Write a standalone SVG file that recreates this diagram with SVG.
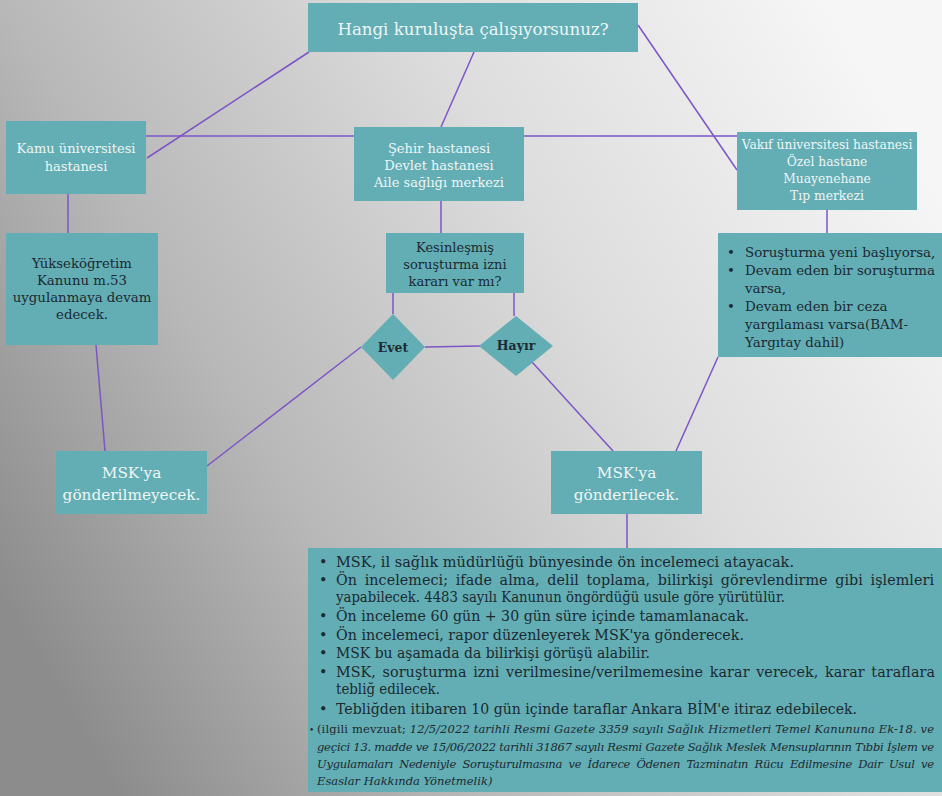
<svg xmlns="http://www.w3.org/2000/svg" width="942" height="796" viewBox="0 0 942 796">
<defs>
<linearGradient id="bg" x1="0" y1="0.75" x2="1" y2="0.25">
<stop offset="0" stop-color="#8c8c8c"/>
<stop offset="0.3" stop-color="#b8b8b8"/>
<stop offset="0.65" stop-color="#dddddd"/>
<stop offset="1" stop-color="#f6f6f6"/>
</linearGradient>
<style>
.box{fill:#63adb4}
.lt{fill:#eef6f6;font-family:"DejaVu Serif","Liberation Serif",serif;text-anchor:middle}
.dk{fill:#1b2a31;font-family:"DejaVu Serif","Liberation Serif",serif;text-anchor:middle}
.dl{fill:#1b2a31;font-family:"DejaVu Serif","Liberation Serif",serif}
.it{font-style:italic}
.ln{stroke:#7d55c7;stroke-width:1.5;fill:none}
</style>
</defs>
<rect width="942" height="796" fill="url(#bg)"/>
<g id="connectors">
<line class="ln" x1="309" y1="52" x2="147" y2="158"/>
<line class="ln" x1="474" y1="52" x2="441" y2="127"/>
<line class="ln" x1="638" y1="25" x2="737" y2="170"/>
<line class="ln" x1="146" y1="136" x2="737" y2="136"/>
<line class="ln" x1="68" y1="194" x2="68" y2="233"/>
<line class="ln" x1="441" y1="201" x2="441" y2="233"/>
<line class="ln" x1="827" y1="210" x2="827" y2="233"/>
<line class="ln" x1="393" y1="293" x2="393" y2="314"/>
<line class="ln" x1="514" y1="293" x2="514" y2="316"/>
<line class="ln" x1="425" y1="347" x2="480" y2="346"/>
<line class="ln" x1="361" y1="347" x2="207" y2="466"/>
<line class="ln" x1="532" y1="362" x2="613" y2="451"/>
<line class="ln" x1="718" y1="357" x2="676" y2="451"/>
<line class="ln" x1="96" y1="345" x2="105" y2="451"/>
<line class="ln" x1="627" y1="514" x2="627" y2="548"/>
</g>
<g id="title">
<rect class="box" x="308" y="3" width="330" height="49"/>
<text class="lt" x="473" y="35" font-size="16.6">Hangi kuruluşta çalışıyorsunuz?</text>
</g>
<g id="kamu">
<rect class="box" x="6" y="121" width="140" height="73"/>
<text class="lt" x="76" y="153" font-size="13">Kamu üniversitesi</text>
<text class="lt" x="76" y="171" font-size="13">hastanesi</text>
</g>
<g id="yok">
<rect class="box" x="6" y="233" width="152" height="112"/>
<text class="dk" x="82" y="268" font-size="13.3">Yükseköğretim</text>
<text class="dk" x="82" y="285" font-size="13.3">Kanunu m.53</text>
<text class="dk" x="82" y="302" font-size="13.3">uygulanmaya devam</text>
<text class="dk" x="82" y="319" font-size="13.3">edecek.</text>
</g>
<g id="sehir">
<rect class="box" x="354" y="127" width="170" height="74"/>
<text class="lt" x="439" y="153" font-size="13">Şehir hastanesi</text>
<text class="lt" x="439" y="170" font-size="13">Devlet hastanesi</text>
<text class="lt" x="439" y="187" font-size="13">Aile sağlığı merkezi</text>
</g>
<g id="kesin">
<rect class="box" x="386" y="233" width="138" height="60"/>
<text class="dk" x="455" y="252" font-size="13">Kesinleşmiş</text>
<text class="dk" x="455" y="269" font-size="13">soruşturma izni</text>
<text class="dk" x="455" y="286" font-size="13">kararı var mı?</text>
</g>
<g id="evet">
<polygon class="box" points="361,347 393,314 425,347 393,380"/>
<text class="dk" x="393" y="352" font-size="12.5" font-weight="bold">Evet</text>
</g>
<g id="hayir">
<polygon class="box" points="479,346 516,316 553,346 516,376"/>
<text class="dk" x="516" y="350" font-size="12.5" font-weight="bold">Hayır</text>
</g>
<g id="vakif">
<rect class="box" x="737" y="132" width="180" height="78"/>
<text class="lt" x="827" y="149" font-size="12.3">Vakıf üniversitesi hastanesi</text>
<text class="lt" x="827" y="166" font-size="12.3">Özel hastane</text>
<text class="lt" x="827" y="183" font-size="12.3">Muayenehane</text>
<text class="lt" x="827" y="200" font-size="12.3">Tıp merkezi</text>
</g>
<g id="sorusturma">
<rect class="box" x="718" y="233" width="224" height="124"/>
<g class="dl" font-size="13.4">
<text x="727" y="257">•</text><text x="745" y="257">Soruşturma yeni başlıyorsa,</text>
<text x="727" y="275">•</text><text x="745" y="275">Devam eden bir soruşturma</text>
<text x="745" y="293">varsa,</text>
<text x="727" y="311">•</text><text x="745" y="311">Devam eden bir ceza</text>
<text x="745" y="329">yargılaması varsa(BAM-</text>
<text x="745" y="347">Yargıtay dahil)</text>
</g>
</g>
<g id="msk-no">
<rect class="box" x="56" y="451" width="151" height="63"/>
<text class="lt" x="131.5" y="478" font-size="15.3">MSK'ya</text>
<text class="lt" x="131.5" y="500" font-size="15.3">gönderilmeyecek.</text>
</g>
<g id="msk-yes">
<rect class="box" x="551" y="451" width="151" height="63"/>
<text class="lt" x="626.5" y="478" font-size="15.3">MSK'ya</text>
<text class="lt" x="626.5" y="500" font-size="15.3">gönderilecek.</text>
</g>
<g id="surec">
<rect class="box" x="308" y="548" width="634" height="244"/>
<g class="dl" font-size="14.3">
<text x="319" y="567">•</text><text x="336" y="567" textLength="458" lengthAdjust="spacingAndGlyphs">MSK, il sağlık müdürlüğü bünyesinde ön incelemeci atayacak.</text>
<text x="319" y="585">•</text><text x="336" y="585" textLength="598" lengthAdjust="spacing" word-spacing="3">Ön incelemeci; ifade alma, delil toplama, bilirkişi görevlendirme gibi işlemleri</text>
<text x="336" y="602" textLength="449" lengthAdjust="spacingAndGlyphs">yapabilecek. 4483 sayılı Kanunun  öngördüğü usule göre yürütülür.</text>
<text x="319" y="621">•</text><text x="336" y="621" textLength="413" lengthAdjust="spacingAndGlyphs">Ön inceleme 60 gün + 30 gün süre içinde tamamlanacak.</text>
<text x="319" y="640">•</text><text x="336" y="640" textLength="408" lengthAdjust="spacingAndGlyphs">Ön incelemeci, rapor düzenleyerek MSK'ya gönderecek.</text>
<text x="319" y="658">•</text><text x="336" y="658" textLength="314" lengthAdjust="spacingAndGlyphs">MSK bu aşamada da bilirkişi görüşü alabilir.</text>
<text x="319" y="677">•</text><text x="336" y="677" textLength="599" lengthAdjust="spacing" word-spacing="2">MSK, soruşturma izni verilmesine/verilmemesine karar verecek, karar taraflara</text>
<text x="336" y="694" textLength="104" lengthAdjust="spacingAndGlyphs">tebliğ edilecek.</text>
<text x="319" y="714">•</text><text x="336" y="714" textLength="521" lengthAdjust="spacingAndGlyphs">Tebliğden itibaren 10 gün içinde taraflar Ankara BİM'e itiraz edebilecek.</text>
</g>
<g class="dl" font-size="11.5">
<text x="309" y="733" font-size="9">•</text>
<text x="317" y="733" textLength="617" lengthAdjust="spacing">(ilgili mevzuat;  <tspan class="it">12/5/2022 tarihli Resmi Gazete 3359 sayılı Sağlık Hizmetleri Temel Kanununa Ek-18. ve</tspan></text>
<text class="it" x="317" y="751" textLength="617" lengthAdjust="spacing">geçici 13. madde ve 15/06/2022 tarihli 31867 sayılı Resmi Gazete Sağlık Meslek Mensuplarının Tıbbi İşlem ve</text>
<text class="it" x="317" y="768" textLength="617" lengthAdjust="spacing" word-spacing="3">Uygulamaları Nedeniyle Soruşturulmasına ve İdarece Ödenen Tazminatın Rücu Edilmesine Dair Usul ve</text>
<text class="it" x="317" y="785">Esaslar Hakkında Yönetmelik)</text>
</g>
</g>
</svg>
